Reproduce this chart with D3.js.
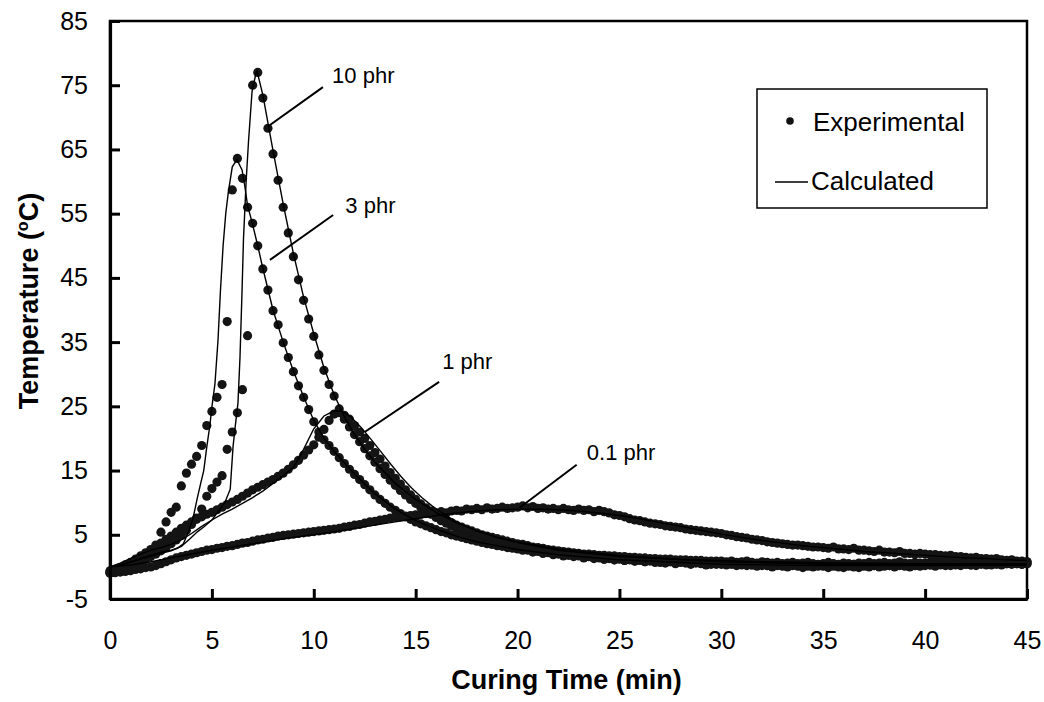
<!DOCTYPE html>
<html><head><meta charset="utf-8">
<script src="https://cdn.jsdelivr.net/npm/d3@7"></script>
<style>
body{margin:0;background:#fff;}
svg{display:block;font-family:"Liberation Sans",Arial,Helvetica,sans-serif;}
</style>
</head><body>
<svg id="chart" width="1044" height="702"></svg>
<script>
// ---------------- data ----------------
const sampleStep = 0.25;           // minutes between experimental readings (t = 0 .. 45)
const xTicks = [0,5,10,15,20,25,30,35,40,45];
const yTicks = [-5,5,15,25,35,45,55,65,75,85];

// Experimental temperatures (°C), one reading every 0.25 min
const exp10 = [
 -0.8,-0.5,-0.3,0.0,0.3,0.6,0.9,1.2,1.6,2.0,2.5,3.0,3.6,4.2,4.9,5.7,6.6,7.6,9.0,11.0,
 12.2,13.2,14.2,18.3,21.0,24.0,27.6,36.0,75.0,77.0,73.0,68.3,64.3,60.2,56.0,52.0,48.3,44.7,41.5,38.6,
 35.9,33.0,30.6,28.4,26.6,24.6,23.0,21.8,20.6,19.5,18.4,17.3,16.3,15.3,14.4,13.5,12.7,11.9,11.2,10.5,
 9.9,9.3,8.7,8.2,7.7,7.2,6.8,6.4,6.0,5.6,5.3,5.0,4.7,4.4,4.2,4.0,3.8,3.6,3.4,3.2,
 3.0,2.9,2.8,2.5,2.6,2.2,2.3,2.0,2.1,1.8,1.9,1.7,1.8,1.5,1.6,1.4,1.5,1.2,1.4,1.1,
 1.3,1.0,1.2,0.9,1.1,0.8,1.0,0.9,0.7,0.9,0.8,0.6,0.8,0.7,0.5,0.7,0.6,0.6,0.4,0.6,
 0.5,0.4,0.6,0.3,0.5,0.4,0.3,0.5,0.4,0.2,0.4,0.3,0.2,0.4,0.3,0.2,0.4,0.3,0.2,0.3,
 0.3,0.2,0.4,0.3,0.1,0.3,0.4,0.2,0.3,0.4,0.2,0.4,0.3,0.2,0.4,0.3,0.5,0.3,0.2,0.4,
 0.4,0.3,0.5,0.4,0.3,0.5,0.4,0.6,0.4,0.3,0.5,0.6,0.4,0.5,0.6,0.4,0.5,0.6,0.5,0.4,
 0.5];
const exp3 = [
 -0.9,-0.6,-0.3,0.0,0.4,0.8,1.3,1.9,2.6,3.4,5.4,7.0,8.5,9.3,12.6,14.6,16.0,17.2,18.9,22.0,
 24.2,26.4,28.4,38.2,58.7,63.6,60.5,56.0,53.5,50.0,46.4,43.1,39.9,37.7,34.9,32.6,30.4,28.2,26.4,24.5,
 22.6,21.0,19.8,18.9,18.0,17.0,16.1,15.2,14.4,13.6,12.8,12.0,11.2,10.5,9.9,9.3,8.8,8.3,7.8,7.4,
 7.0,6.7,6.4,6.1,5.8,5.5,5.3,5.0,4.8,4.6,4.4,4.2,4.0,3.8,3.6,3.5,3.3,3.2,3.0,2.9,
 2.8,2.6,2.6,2.3,2.4,2.1,2.2,1.9,2.0,1.7,1.8,1.6,1.7,1.4,1.6,1.3,1.4,1.2,1.3,1.1,
 1.2,1.0,1.1,0.9,1.0,0.8,0.9,0.7,0.9,0.6,0.8,0.5,0.7,0.6,0.4,0.6,0.5,0.3,0.5,0.4,
 0.4,0.3,0.4,0.2,0.3,0.2,0.3,0.1,0.2,0.2,0.0,0.2,0.1,0.0,0.2,0.1,-0.1,0.1,0.0,0.1,
 0.1,-0.1,0.1,0.0,-0.1,0.1,0.0,-0.1,0.1,0.0,0.2,0.0,0.1,0.2,0.0,0.2,0.1,0.0,0.2,0.1,
 0.2,0.3,0.1,0.3,0.2,0.2,0.3,0.2,0.4,0.3,0.2,0.4,0.3,0.3,0.4,0.3,0.5,0.4,0.5,0.4,
 0.5];
const exp1 = [
 -0.6,-0.4,-0.1,0.3,0.7,1.2,1.7,2.2,2.7,3.2,3.7,4.3,4.8,5.4,6.0,6.5,7.0,7.4,7.8,8.2,
 8.5,8.9,9.3,9.7,10.1,10.5,11.0,11.5,12.0,12.4,12.8,13.2,13.6,14.1,14.6,15.2,15.9,16.6,17.4,18.2,
 19.0,20.2,21.4,22.8,23.8,24.0,23.6,23.0,22.0,21.0,20.0,18.9,17.8,16.8,15.7,14.7,13.8,12.9,12.0,11.2,
 10.5,9.8,9.2,8.7,8.2,7.7,7.3,6.9,6.5,6.2,5.9,5.6,5.3,5.0,4.8,4.6,4.4,4.2,4.0,3.8,
 3.6,3.5,3.3,3.1,3.0,2.9,2.7,2.6,2.5,2.4,2.3,2.2,2.1,2.0,2.0,1.9,1.8,1.8,1.7,1.7,
 1.6,1.6,1.5,1.5,1.4,1.4,1.3,1.3,1.2,1.2,1.2,1.1,1.1,1.1,1.0,1.0,1.0,0.9,0.9,0.9,
 0.9,0.8,0.9,0.7,0.8,0.9,0.7,0.6,0.8,0.7,0.6,0.7,0.5,0.6,0.7,0.5,0.6,0.7,0.5,0.4,
 0.5,0.7,0.5,0.4,0.6,0.5,0.4,0.6,0.5,0.7,0.5,0.6,0.7,0.5,0.6,0.8,0.6,0.5,0.7,0.6,
 0.6,0.7,0.8,0.6,0.5,0.8,0.6,0.7,0.8,0.6,0.7,0.9,0.7,0.6,0.8,0.7,0.6,0.9,0.7,0.8,
 0.8];
const exp01 = [
 -1.0,-0.9,-0.8,-0.7,-0.6,-0.4,-0.3,-0.1,0.0,0.2,0.5,0.8,1.1,1.4,1.6,1.8,2.0,2.2,2.4,2.6,
 2.7,2.9,3.0,3.2,3.3,3.5,3.7,3.8,4.0,4.2,4.3,4.5,4.6,4.8,4.9,5.0,5.1,5.2,5.3,5.4,
 5.5,5.6,5.7,5.8,5.9,6.0,6.2,6.3,6.5,6.6,6.8,7.0,7.1,7.3,7.4,7.6,7.7,7.8,7.9,8.0,
 8.1,8.2,8.3,8.3,8.4,8.6,8.4,8.7,8.8,8.7,9.0,8.9,9.1,8.9,9.2,9.0,9.1,9.3,9.1,9.2,
 9.3,9.5,9.2,9.4,9.1,9.2,9.0,9.1,8.9,9.1,8.9,8.8,9.0,8.8,8.9,8.6,8.8,8.6,8.4,8.1,
 8.0,7.8,7.5,7.3,7.2,7.0,6.8,6.7,6.6,6.4,6.3,6.2,6.1,5.9,5.8,5.7,5.6,5.5,5.4,5.3,
 5.2,5.0,4.9,4.7,4.6,4.5,4.3,4.2,4.1,3.9,3.8,3.7,3.6,3.5,3.4,3.4,3.3,3.2,3.1,3.1,
 3.0,2.9,3.1,2.8,2.8,2.7,2.9,2.6,2.6,2.5,2.4,2.6,2.3,2.3,2.2,2.4,2.1,2.1,2.0,2.1,
 2.0,1.9,1.9,1.8,1.7,1.8,1.6,1.6,1.5,1.4,1.5,1.3,1.3,1.2,1.3,1.1,1.0,1.1,0.9,0.9,
 0.8];

// Calculated curves: [time (min), temperature (°C)]
const calc10 = [[0,0],[0.5,0.3],[1,0.7],[1.5,1.2],[2,1.7],[2.5,2.1],[3,2.5],[3.5,3.2],[3.9,4.3],
 [4.3,5.5],[4.6,6.2],[5.0,7.3],[5.4,9.0],[5.65,10.1],[5.9,12.1],[6.04,18.8],[6.15,22],[6.28,25.5],
 [6.38,32.7],[6.48,43],[6.55,51],[6.68,60],[6.8,66.4],[6.97,74],[7.2,77.4],[7.5,73.5],[8,64.8],
 [8.5,56.5],[9,48.8],[9.5,42],[10,36.3],[10.5,31],[11,26.8],[11.5,23.4],[12,20.6],[12.5,18.3],
 [13,16.3],[14,13],[15,10.5],[16,8.5],[17,6.9],[18,5.6],[19,4.6],[20,3.8],[22,2.6],[25,1.6],
 [30,0.8],[35,0.4],[40,0.3],[45,0.3]];
const calc3 = [[0,0],[0.5,0.3],[1,0.8],[1.5,1.3],[2,1.8],[2.5,2.3],[3,2.6],[3.3,2.9],[3.6,3.6],
 [3.85,5.5],[4.07,7.5],[4.27,10.5],[4.45,13],[4.6,15],[4.75,18.7],[4.9,22],[5.0,24.9],[5.15,28.5],
 [5.3,35.3],[5.42,43],[5.55,50],[5.68,55],[5.8,58.2],[6.0,62.3],[6.23,63.4],[6.48,61.8],[6.62,59.2],
 [6.75,56.3],[7,53.3],[7.25,50],[7.5,46.5],[8,40],[8.5,35],[9,30.5],[9.5,26.5],[10,22.8],[10.5,20],
 [11,18],[11.5,16.2],[12,14.5],[12.5,12.9],[13,11.4],[14,9],[15,7.2],[16,5.9],[17,4.8],[18,3.9],
 [20,2.7],[22,1.9],[25,1.1],[30,0.4],[35,0.2],[40,0.2],[45,0.3]];
const calc1 = [[0,0],[0.5,0.6],[1,1.3],[1.5,2.0],[2,2.6],[2.5,3.0],[3,3.5],[3.5,4.2],[4,5.2],
 [4.5,6.3],[5,7.3],[5.5,8.2],[6,9.0],[6.5,9.9],[7,10.8],[7.5,11.8],[8,13.0],[8.5,14.2],[9,15.5],
 [9.5,18.3],[10,21.5],[10.5,23.5],[11,24.3],[11.4,24.2],[11.8,23.4],[12.3,21.8],[12.8,19.9],
 [13.3,17.9],[13.8,15.9],[14.3,14.0],[14.8,12.3],[15.3,10.8],[15.8,9.5],[16.3,8.4],[17,7.0],
 [18,5.6],[19,4.6],[20,3.9],[22,2.8],[25,1.8],[28,1.2],[32,0.8],[36,0.6],[40,0.5],[45,0.5]];
const calc01 = [[0,0],[1,0.3],[2,0.8],[3,1.4],[4,2.0],[5,2.6],[6,3.1],[7,3.6],[8,4.1],[9,4.6],
 [10,5.0],[11,5.5],[12,6.0],[13,6.5],[14,7.0],[15,7.5],[16,8.0],[17,8.4],[18,8.7],[19,8.9],
 [20,9.0],[21,9.0],[22,8.9],[23,8.7],[24,8.4],[25,8.0],[26,7.5],[27,6.9],[28,6.3],[29,5.7],
 [30,5.1],[31,4.6],[32,4.1],[33,3.7],[34,3.3],[35,3.0],[36,2.7],[37,2.4],[38,2.2],[39,2.0],
 [40,1.8],[41,1.6],[42,1.4],[43,1.3],[44,1.1],[45,1.0]];

// Curve labels and leader lines (data units)
const labelNames = ["10 phr","3 phr","1 phr","0.1 phr"];
const labelAt    = [[10.9,75.3],[11.55,55.1],[16.3,30.8],[23.4,16.6]];
const leaderFrom = [[10.45,74.7],[10.95,54.8],[16.15,28.8],[22.9,15.9]];
const leaderTo   = [[7.85,68.8],[7.85,47.8],[12.5,21.0],[20.1,9.2]];

const legendNames = ["Experimental","Calculated"];
const xTitle = "Curing Time (min)";

// ---------------- drawing ----------------
const svg = d3.select("#chart");
const x = d3.scaleLinear().domain([0,45]).range([110,1027]);
const y = d3.scaleLinear().domain([-5,85]).range([599,21]);

const expSeries = [exp10, exp3, exp1, exp01];
const calcSeries = [calc10, calc3, calc1, calc01];

// frame
svg.append("rect").attr("x",x(0)).attr("y",y(85)).attr("width",x(45)-x(0)).attr("height",y(-5)-y(85))
  .attr("fill","none").attr("stroke","#000").attr("stroke-width",2.5);

// experimental markers
const gExp = svg.append("g");
expSeries.forEach(arr => {
  gExp.selectAll(null).data(arr.map((v,i)=>[i*sampleStep, v])).enter()
    .append("circle")
    .attr("cx", d=>x(d[0])).attr("cy", d=>y(d[1])).attr("r",4.6)
    .attr("fill","#141414");
});

// calculated lines
const line = d3.line().x(d=>x(d[0])).y(d=>y(d[1]));
calcSeries.forEach(arr => {
  svg.append("path").attr("d", line(arr)).attr("fill","none")
    .attr("stroke","#000").attr("stroke-width",1.4);
});

// axes
const fmt = d => String(d);
const yAxis = d3.axisLeft(y).tickValues(yTicks).tickFormat(fmt).tickSizeInner(-10).tickSizeOuter(0).tickPadding(22);
const gy = svg.append("g").attr("transform",`translate(${x(0)},0)`).call(yAxis);
const xAxis = d3.axisBottom(x).tickValues(xTicks).tickFormat(fmt).tickSizeInner(-10).tickSizeOuter(0).tickPadding(32);
const gx = svg.append("g").attr("transform",`translate(0,${y(-5)})`).call(xAxis);
[gx, gy].forEach(g => {
  g.attr("font-family",null).attr("font-size",null);
  g.select(".domain").attr("stroke","#000").attr("stroke-width",3.2);
  g.selectAll(".tick line").attr("stroke","#000").attr("stroke-width",3);
  g.selectAll(".tick text").attr("fill","#000").style("font-size","25px");
});

// axis titles
svg.append("text").attr("x",(x(0)+x(45))/2 - 2).attr("y",689).attr("text-anchor","middle")
  .style("font-size","27px").style("font-weight","bold").text(xTitle);
const yt = svg.append("text").attr("transform",`translate(38,${(y(-5)+y(85))/2 - 9}) rotate(-90)`)
  .attr("text-anchor","middle").style("font-size","27px").style("font-weight","bold");
yt.append("tspan").text("Temperature (");
yt.append("tspan").attr("dy",-10).style("font-size","16px").text("o");
yt.append("tspan").attr("dy",10).text("C)");

// curve labels with leader lines
labelNames.forEach((name,i) => {
  svg.append("line")
    .attr("x1",x(leaderFrom[i][0])).attr("y1",y(leaderFrom[i][1]))
    .attr("x2",x(leaderTo[i][0])).attr("y2",y(leaderTo[i][1]))
    .attr("stroke","#000").attr("stroke-width",2);
  svg.append("text").attr("x",x(labelAt[i][0])).attr("y",y(labelAt[i][1]))
    .style("font-size","22px").attr("fill","#000").text(name);
});

// legend
const lg = svg.append("g").attr("transform","translate(757,89)");
lg.append("rect").attr("width",230).attr("height",119).attr("fill","#fff")
  .attr("stroke","#000").attr("stroke-width",1.5);
lg.append("circle").attr("cx",33).attr("cy",32).attr("r",3.8).attr("fill","#111");
lg.append("text").attr("x",56).attr("y",42).style("font-size","26px").text(legendNames[0]);
lg.append("line").attr("x1",18).attr("x2",51).attr("y1",93).attr("y2",93)
  .attr("stroke","#000").attr("stroke-width",1.5);
lg.append("text").attr("x",54).attr("y",101).style("font-size","26px").text(legendNames[1]);
</script>
</body></html>
